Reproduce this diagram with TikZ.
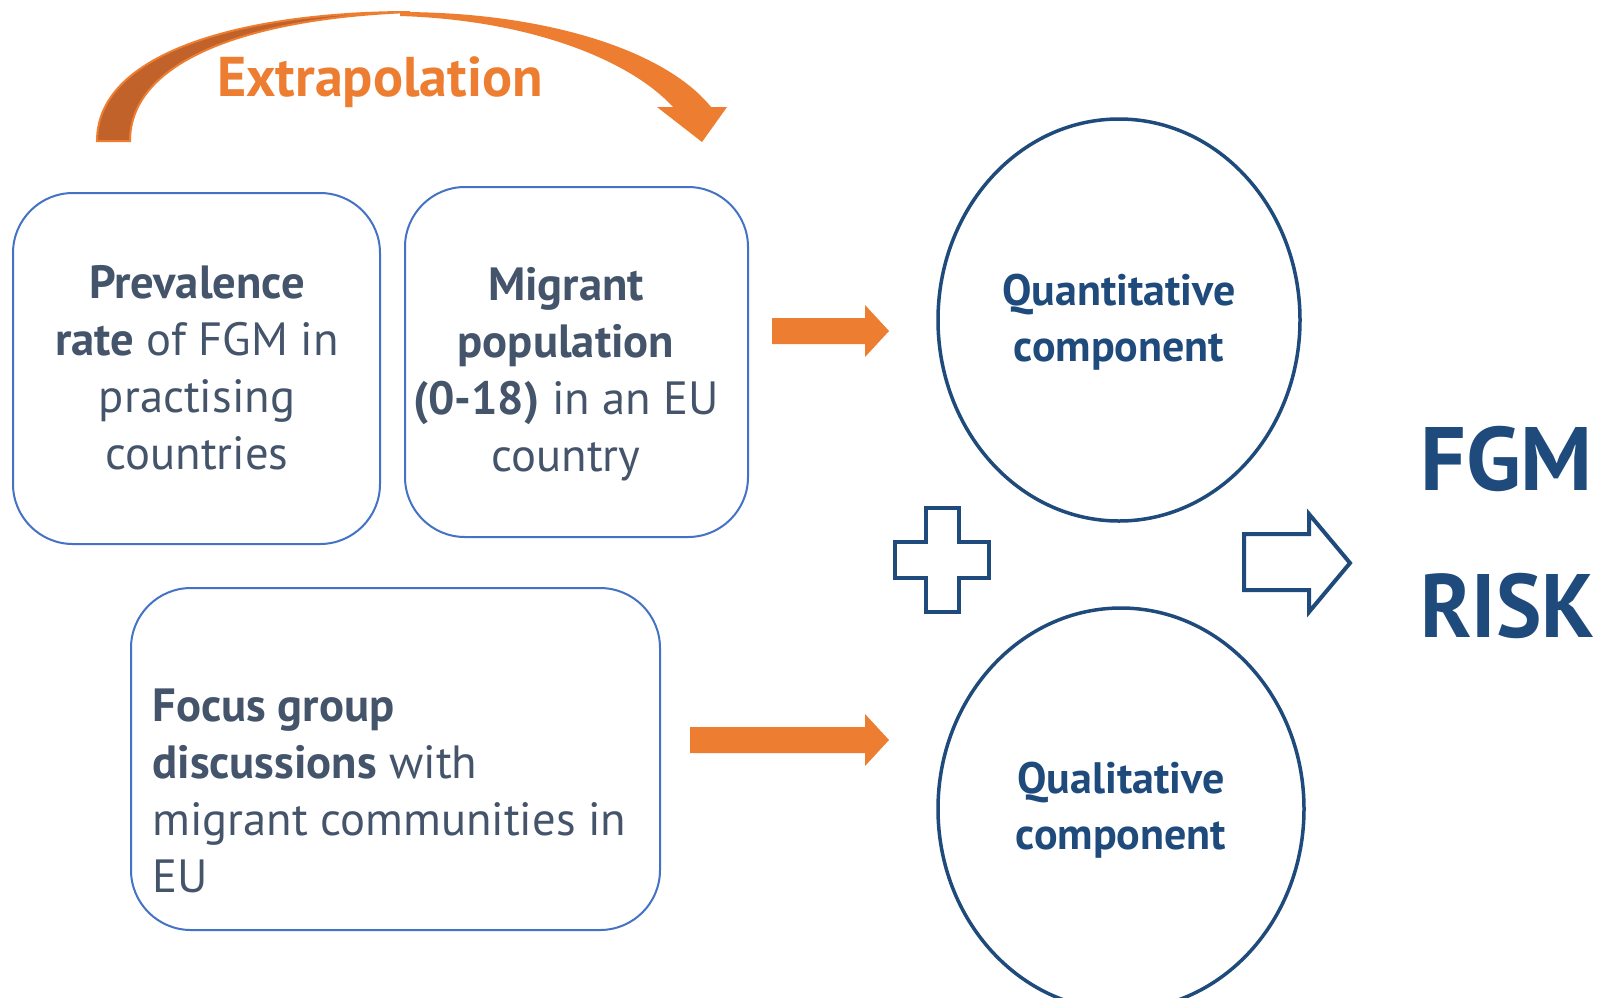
\documentclass[tikz,border=0pt]{standalone}
\usepackage{fontspec}
\setmainfont{PT Sans}
\usetikzlibrary{shapes.geometric}
\definecolor{boxblue}{HTML}{4472C4}
\definecolor{darkblue}{HTML}{1F4A7C}
\definecolor{slate}{HTML}{44546A}
\definecolor{orng}{HTML}{ED7D31}
\definecolor{brn}{HTML}{C0622A}
\tikzset{
  rbox/.style={draw=boxblue, line width=1pt, rounded corners=30pt, inner sep=0pt},
  btext/.style={text=slate, font=\fontsize{23.3}{28.5}\selectfont, inner sep=0pt},
  ring/.style={ellipse, draw=darkblue, line width=1.75pt, inner sep=0pt},
  ctext/.style={text=darkblue, font=\bfseries\fontsize{22}{28}\selectfont, inner sep=0pt, align=center},
  orangearrow/.style={fill=orng, draw=none},
  outline/.style={draw=darkblue, line width=2pt, fill=white, line join=miter},
  bigtext/.style={text=darkblue, font=\bfseries\fontsize{45}{50}\selectfont, inner sep=0pt, anchor=base west},
}
\begin{document}
\begin{tikzpicture}[x=0.5pt,y=-0.5pt]
\useasboundingbox[fill=white] (0,0) rectangle (1599,997);

% boxes
\node[rbox, minimum width=183.5pt, minimum height=175.5pt] (prev) at (196.5,368.5) {};
\node[rbox, minimum width=171.5pt, minimum height=175pt] (migr) at (576.5,362) {};
\node[rbox, minimum width=264.5pt, minimum height=171pt] (focus) at (395.5,759) {};

\node[btext, align=center] (prevtext) at (197,368)
  {\textbf{Prevalence}\\\textbf{rate} of FGM in\\practising\\countries};
\node[btext, align=center] (migrtext) at (566,374)
  {\textbf{Migrant}\\\textbf{population}\\\textbf{(0-18)} in an EU\\country};
\node[btext, align=left, anchor=base west] (focustext) at (152,892)
  {\textbf{Focus group}\\\textbf{discussions} with\\migrant communities in\\EU};

% circles
\node[ring, minimum width=181pt, minimum height=201pt] (quant) at (1119,320) {};
\node[ring, minimum width=183pt, minimum height=201pt] (qual) at (1121,809) {};
\node[ctext, anchor=base] (quanttext) at (1119,305) {Quantitative};
\node[ctext, anchor=base] (quanttext2) at (1119,361) {component};
\node[ctext, anchor=base] (qualtext) at (1121,793) {Qualitative};
\node[ctext, anchor=base] (qualtext2) at (1121,849) {component};

% orange block arrows
\fill[orangearrow] (772,318) -- (865,318) -- (865,305) -- (889,331) -- (865,357) -- (865,344) -- (772,344) -- cycle;
\fill[orangearrow] (690,727) -- (865,727) -- (865,714) -- (889,740) -- (865,766) -- (865,753) -- (690,753) -- cycle;

% plus sign
\draw[outline] (926,508) -- (959,508) -- (959,542) -- (989,542) -- (989,578) -- (959,578) -- (959,612) -- (926,612) -- (926,578) -- (895,578) -- (895,542) -- (926,542) -- cycle;

% hollow arrow
\draw[outline] (1244,534) -- (1309,534) -- (1309,514) -- (1350,563) -- (1309,612) -- (1309,590) -- (1244,590) -- cycle;

% FGM RISK
\node[bigtext] (fgm) at (1420,490) {FGM};
\node[bigtext] (risk) at (1420,637) {\scalebox{0.95}[1]{RISK}};

% curved arrow
\fill[orng] (400,12) .. controls (545,12) and (665,50) .. (711,107) -- (727,107) -- (702,142) -- (657,107) -- (673,107)
  .. controls (630,60) and (530,20) .. (400,16) -- cycle;
\filldraw[fill=brn, draw=orng, line width=1pt] (97,141) .. controls (97,50) and (250,12) .. (410,12)
  .. controls (250,18) and (130,60) .. (130,141) -- cycle;
\node[text=orng, font=\bfseries\fontsize{28}{30}\selectfont, inner sep=0pt, anchor=base] (extra) at (380,96) {Extrapolation};
\end{tikzpicture}
\end{document}
